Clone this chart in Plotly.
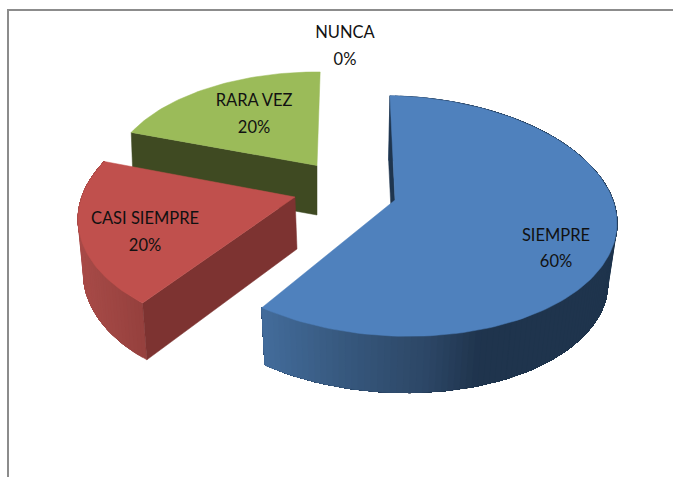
import math
import plotly.graph_objects as go

categories = ["SIEMPRE", "CASI SIEMPRE", "RARA VEZ", "NUNCA"]
values = [60, 20, 20, 0]

# Pixel canvas and drawing geometry (view of the exploded 3-D pie)
W, H = 673, 477
FONT = "Lato, Roboto, sans-serif"
ROTATION = -3.0

STYLE = {
    "SIEMPRE": dict(top="#4f81bd", cut="#1f354e", apex=(395, 200), base=(393.5, 261), A=220, B=118, k=0.133,
                    shear=0.033, scale=(0.965, 0.965), twist=(1.5, -0.5), wall=True,
                    side=[(261, "#436c9b"), (340, "#37597f"), (430, "#2c4665"), (480, "#1f344d"), (620, "#1f344d")]),
    "CASI SIEMPRE": dict(top="#c0504d", cut="#7d3331", apex=(295, 197), base=(297, 249), A=215, B=118, k=0.133,
                         shear=-0.03, scale=(0.985, 1.045), twist=(6.5, 6.5), wall=True,
                         side=[(78, "#a84b48"), (150, "#933f3c")]),
    "RARA VEZ": dict(top="#9bbb59", cut="#3f4a22", apex=(317, 165.5), base=(317, 215), A=205, B=106, k=0.133,
                     shear=0.0, scale=(0.99, 1.0), twist=(4.0, 4.0), wall=False,
                     side=[(130, "#3f4a22"), (320, "#3f4a22")]),
}
LABEL_POS = {
    "SIEMPRE": (556, 236.5, 262.5),
    "CASI SIEMPRE": (145, 219.5, 246.5),
    "RARA VEZ": (254, 101.5, 128.5),
    "NUNCA": (345, 33.5, 60.5),
}
DRAW_ORDER = ["RARA VEZ", "CASI SIEMPRE", "SIEMPRE"]


def hex2rgb(c):
    return tuple(int(c[i:i + 2], 16) for i in (1, 3, 5))


def side_colour(stops, x):
    if x <= stops[0][0]:
        return stops[0][1]
    for (x0, c0), (x1, c1) in zip(stops, stops[1:]):
        if x <= x1:
            t = (x - x0) / (x1 - x0)
            a, b = hex2rgb(c0), hex2rgb(c1)
            return "rgb(%d,%d,%d)" % tuple(round(a[i] + (b[i] - a[i]) * t) for i in range(3))
    return stops[-1][1]


def rim(st, deg):
    th = math.radians(deg)
    u, v = math.sin(th), math.cos(th)
    w = 1 + st["k"] * v
    sx = st["A"] * u / w
    sy = -st["B"] * v / w + st["shear"] * st["A"] * u / w
    return st["apex"][0] + sx, st["apex"][1] + sy


def below(st, p):
    return (st["base"][0] + st["scale"][0] * (p[0] - st["apex"][0]),
            st["base"][1] + st["scale"][1] * (p[1] - st["apex"][1]))


def poly(fig, pts, colour):
    xs = [p[0] for p in pts] + [pts[0][0]]
    ys = [p[1] for p in pts] + [pts[0][1]]
    fig.add_trace(go.Scatter(x=xs, y=ys, mode="lines", fill="toself", fillcolor=colour,
                             line=dict(color=colour, width=0.5), hoverinfo="skip", showlegend=False))


# Angular span of each slice, clockwise from the top, from the values
total = sum(values)
spans, acc = {}, ROTATION
for name, val in zip(categories, values):
    spans[name] = (acc, acc + 360 * val / total)
    acc += 360 * val / total

fig = go.Figure()
for name in DRAW_ORDER:
    st = STYLE[name]
    a0, a1 = spans[name][0] + st["twist"][0], spans[name][1] + st["twist"][1]
    n = max(int((a1 - a0) / 1.5), 2)
    angles = [a0 + (a1 - a0) * i / n for i in range(n + 1)]
    arc = [rim(st, d) for d in angles]
    # outer wall: each band reaches to the end of the arc, so the next band overpaints it without seams
    if st["wall"]:
        for i in range(n):
            rest = arc[i:]
            colour = side_colour(st["side"], (arc[i][0] + arc[i + 1][0]) / 2)
            poly(fig, rest + [below(st, p) for p in reversed(rest)], colour)
    # cut wall at the start of the slice
    poly(fig, [st["apex"], arc[0], below(st, arc[0]), st["base"]], st["cut"])
    # top face
    poly(fig, [st["apex"]] + arc, st["top"])

# Labels
for name, val in zip(categories, values):
    x, y1, y2 = LABEL_POS[name]
    fig.add_trace(go.Scatter(x=[x, x], y=[y1, y2], mode="text",
                             text=[name, "%d%%" % round(100 * val / total)],
                             textposition="middle center",
                             textfont=dict(family=FONT, size=16.5, color="#111111"),
                             hoverinfo="skip", showlegend=False))

fig.update_layout(
    width=W, height=H, margin=dict(l=0, r=0, t=0, b=0),
    paper_bgcolor="white", plot_bgcolor="white", showlegend=False,
    xaxis=dict(range=[0, W], visible=False, fixedrange=True),
    yaxis=dict(range=[H, 0], visible=False, fixedrange=True),
    shapes=[dict(type="path", path=f"M 8 {H} L 8 10 L {W} 10", xref="x", yref="y",
                 line=dict(color="#8c8c8c", width=2), layer="below")],
)
fig.write_html("out.html", config=dict(displayModeBar=False),
               post_script="document.body.style.margin='0';document.documentElement.style.overflow='hidden';")
